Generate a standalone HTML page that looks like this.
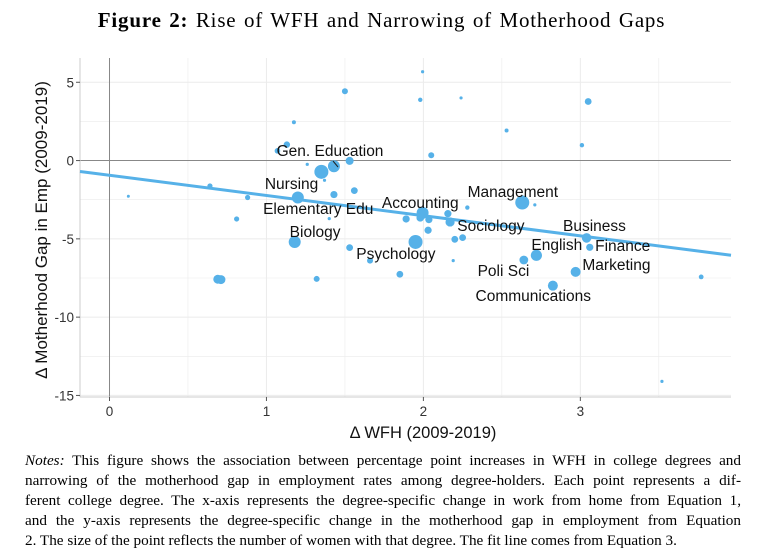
<!DOCTYPE html>
<html><head><meta charset="utf-8"><style>
body{margin:0;background:#fff;width:763px;height:551px;overflow:hidden;position:relative}
#title{position:absolute;top:8px;left:0;width:763px;text-align:center;font-family:"Liberation Serif",serif;font-size:21px;letter-spacing:0.8px;word-spacing:1.5px}
#notes{position:absolute;left:25px;top:451px;width:716px;font-family:"Liberation Serif",serif;font-size:15.2px;line-height:20px}
#notes div{text-align:justify;text-align-last:justify;white-space:nowrap}
#notes div.last{text-align-last:left}
svg{position:absolute;left:0;top:0}
</style></head><body>
<div id="title"><b>Figure 2:</b> Rise of WFH and Narrowing of Motherhood Gaps</div>
<svg id="chart" width="763" height="551"></svg>
<div id="notes">
<div><i>Notes:</i> This figure shows the association between percentage point increases in WFH in college degrees and</div>
<div>narrowing of the motherhood gap in employment rates among degree-holders. Each point represents a dif-</div>
<div>ferent college degree. The x-axis represents the degree-specific change in work from home from Equation 1,</div>
<div>and the y-axis represents the degree-specific change in the motherhood gap in employment from Equation</div>
<div class="last">2. The size of the point reflects the number of women with that degree. The fit line comes from Equation 3.</div>
</div>
<script>
const xs=[1.50,1.175,1.13,1.07,1.26,1.35,1.43,1.53,1.37,0.64,0.12,0.88,1.20,1.43,1.56,0.81,1.40,1.18,1.53,1.66,0.69,0.71,1.32,
1.995,1.98,2.24,3.05,2.53,3.01,2.05,2.63,2.71,2.28,1.995,1.98,1.89,2.035,2.156,2.17,2.03,2.20,2.25,1.95,2.19,1.85,3.04,3.06,2.72,2.64,2.97,2.825,3.77,3.52];
const ys=[4.43,2.45,1.02,0.62,-0.24,-0.72,-0.36,-0.02,-1.26,-1.62,-2.28,-2.36,-2.36,-2.17,-1.92,-3.73,-3.71,-5.2,-5.56,-6.39,-7.58,-7.6,-7.56,
5.67,3.88,4.0,3.77,1.92,0.98,0.34,-2.68,-2.83,-3.0,-3.34,-3.66,-3.73,-3.77,-3.39,-3.92,-4.45,-5.03,-4.92,-5.2,-6.39,-7.26,-4.94,-5.54,-6.05,-6.35,-7.11,-7.99,-7.43,-14.1];
const sizes=[3,2,3.2,2.8,1.6,7,6,4,1.6,2.6,1.5,2.6,6,3.6,3.4,2.6,1.6,6,3.4,3,4.5,4.5,3,
1.6,2.2,1.6,3.4,2,2.2,3,7,1.6,2.2,6,3.8,3.6,3.6,3.6,4.6,3.6,3.4,3.4,7,1.6,3.4,4.8,3.6,5.6,4.4,5,5,2.4,1.6];
const labels=["Gen. Education","Nursing","Elementary Edu","Biology","Psychology","Accounting","Management","Sociology","Business","English","Finance","Marketing","Poli Sci","Communications"];
const labelX=[1.405,1.16,1.33,1.31,1.825,1.98,2.57,2.43,3.09,2.85,3.27,3.23,2.51,2.70];
const labelY=[0.64,-1.47,-3.07,-4.54,-5.94,-2.68,-1.98,-4.15,-4.15,-5.37,-5.43,-6.65,-7.03,-8.63];
const xTicks=[0,1,2,3];
const yTicks=[5,0,-5,-10,-15];
const fitIntercept=-0.94, fitSlope=-1.29;
const xDom=[-0.188,3.96], yDom=[6.55,-15.1];
const L=80,R=731,T=58,B=397;
const sx=v=>L+(v-xDom[0])/(xDom[1]-xDom[0])*(R-L);
const sy=v=>T+(v-yDom[0])/(yDom[1]-yDom[0])*(B-T);
const svg=document.getElementById('chart');const NS='http://www.w3.org/2000/svg';
function mk(t,a,p){const e=document.createElementNS(NS,t);for(const k in a)e.setAttribute(k,a[k]);(p||svg).appendChild(e);return e;}
for(let v=-0.5;v<=4;v+=0.5){if(sx(v)<L||sx(v)>R)continue;const g=mk('line',{x1:sx(v),x2:sx(v),y1:T,y2:B,stroke:'#ebebeb','stroke-width':Number.isInteger(v)?1:0.6});

}
for(let v=5;v>=-15;v-=2.5){const g=mk('line',{x1:L,x2:R,y1:sy(v),y2:sy(v),stroke:'#ebebeb','stroke-width':v%5===0?1:0.6});

}
let z=mk('line',{x1:sx(0),x2:sx(0),y1:T,y2:B,stroke:'#888','stroke-width':1});


z=mk('line',{x1:L,x2:R,y1:sy(0),y2:sy(0),stroke:'#888','stroke-width':1});


let ax=mk('line',{x1:L,x2:L,y1:T,y2:B,stroke:'#ccc'});


ax=mk('line',{x1:L,x2:R,y1:B,y2:B,stroke:'#ccc'});


xTicks.forEach(v=>{const t=mk('line',{x1:sx(v),x2:sx(v),y1:B,y2:B+4,stroke:'#555'});


const l=mk('text',{x:sx(v),y:B+19,'text-anchor':'middle','font-family':'Liberation Sans,sans-serif','font-size':13.5,fill:'#333'});l.textContent=v;

});
yTicks.forEach(v=>{const t=mk('line',{x1:L-4,x2:L,y1:sy(v),y2:sy(v),stroke:'#555'});


const l=mk('text',{x:L-6,y:sy(v)+5,'text-anchor':'end','font-family':'Liberation Sans,sans-serif','font-size':13.5,fill:'#333'});l.textContent=v;

});
let tt=mk('text',{x:423,y:438,'text-anchor':'middle','font-family':'Liberation Sans,sans-serif','font-size':16.5,fill:'#111'});tt.textContent='Δ WFH (2009-2019)';


tt=mk('text',{x:0,y:0,transform:'translate(47,230) rotate(-90)','text-anchor':'middle','font-family':'Liberation Sans,sans-serif','font-size':17,fill:'#111'});tt.textContent='Δ Motherhood Gap in Emp (2009-2019)';


xs.forEach((v,i)=>{const c=mk('circle',{cx:sx(v),cy:sy(ys[i]),r:sizes[i],fill:'#56B1E8'});

});
const fl=mk('line',{x1:sx(xDom[0]),y1:sy(fitIntercept+fitSlope*xDom[0]),x2:sx(xDom[1]),y2:sy(fitIntercept+fitSlope*xDom[1]),stroke:'#56B1E8','stroke-width':3});


const ld=mk('line',{x1:333,y1:161,x2:338,y2:167,stroke:'#222','stroke-width':1});


labels.forEach((s,i)=>{const l=mk('text',{x:sx(labelX[i]),y:sy(labelY[i])+5.5,'text-anchor':'middle','font-family':'Liberation Sans,sans-serif','font-size':15.5,fill:'#111'});l.textContent=s;

});
</script>
</body></html>
